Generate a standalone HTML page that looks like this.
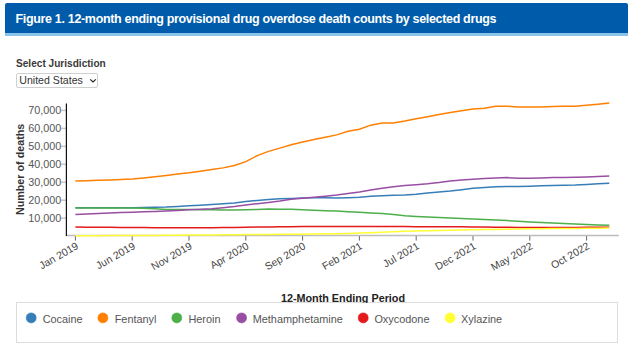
<!DOCTYPE html>
<html><head><meta charset="utf-8"><style>
html,body{margin:0;padding:0;background:#fff;width:635px;height:348px;overflow:hidden;font-family:"Liberation Sans",sans-serif;}
.hdr{position:absolute;left:5px;top:3.2px;width:623.2px;height:29.6px;background:#005caa;border-bottom:3px solid #8ac3ea;border-radius:2px 2px 0 0;box-sizing:content-box;}
.hdr span{position:absolute;left:10.5px;top:7.9px;color:#fff;font-weight:bold;font-size:12.5px;letter-spacing:-0.33px;white-space:nowrap;line-height:16px;}
.sel-lbl{position:absolute;left:16px;top:57.1px;font-weight:bold;font-size:10.1px;color:#3a3a3a;line-height:14px;white-space:nowrap;}
.sel{position:absolute;left:15.7px;top:73.3px;width:80px;height:12.9px;border:1px solid #cfcfcf;border-radius:2px;background:#fff;}
.sel span{position:absolute;left:2.6px;top:0.2px;font-size:10.6px;color:#333;line-height:13px;white-space:nowrap;}
svg{position:absolute;left:0;top:0;}
.legend{position:absolute;left:15.5px;top:302.3px;width:600.5px;height:39.2px;border:1px solid #dcdcdc;background:#fff;}
</style></head><body>
<div class="hdr"><span>Figure 1. 12-month ending provisional drug overdose death counts by selected drugs</span></div>
<div class="sel-lbl">Select Jurisdiction</div>
<div class="sel"><span>United States</span>
<svg width="8" height="6" style="left:71.9px;top:3.6px" viewBox="0 0 8 6"><path d="M1.2,1.3 L4,4 L6.8,1.3" fill="none" stroke="#222" stroke-width="1.15"/></svg></div>
<div class="legend"></div>
<svg width="635" height="303" viewBox="0 0 635 303" style="font-family:'Liberation Sans',sans-serif">
<text transform="translate(23.6,169.4) rotate(-90)" text-anchor="middle" font-size="10.75" font-weight="bold" fill="#333">Number of deaths</text>
<line x1="60.9" x2="66.4" y1="218.15" y2="218.15" stroke="#c8c8c8" stroke-width="1.5"/>
<text x="61.3" y="221.95" text-anchor="end" font-size="10.8" fill="#555">10,000</text>
<line x1="60.9" x2="66.4" y1="200.20" y2="200.20" stroke="#c8c8c8" stroke-width="1.5"/>
<text x="61.3" y="204.00" text-anchor="end" font-size="10.8" fill="#555">20,000</text>
<line x1="60.9" x2="66.4" y1="182.25" y2="182.25" stroke="#c8c8c8" stroke-width="1.5"/>
<text x="61.3" y="186.05" text-anchor="end" font-size="10.8" fill="#555">30,000</text>
<line x1="60.9" x2="66.4" y1="164.30" y2="164.30" stroke="#c8c8c8" stroke-width="1.5"/>
<text x="61.3" y="168.10" text-anchor="end" font-size="10.8" fill="#555">40,000</text>
<line x1="60.9" x2="66.4" y1="146.35" y2="146.35" stroke="#c8c8c8" stroke-width="1.5"/>
<text x="61.3" y="150.15" text-anchor="end" font-size="10.8" fill="#555">50,000</text>
<line x1="60.9" x2="66.4" y1="128.40" y2="128.40" stroke="#c8c8c8" stroke-width="1.5"/>
<text x="61.3" y="132.20" text-anchor="end" font-size="10.8" fill="#555">60,000</text>
<line x1="60.9" x2="66.4" y1="110.45" y2="110.45" stroke="#c8c8c8" stroke-width="1.5"/>
<text x="61.3" y="114.25" text-anchor="end" font-size="10.8" fill="#555">70,000</text>
<line x1="75.40" x2="75.40" y1="235.5" y2="240.6" stroke="#666" stroke-width="1"/>
<text transform="translate(75.40,246.7) rotate(-30)" x="2.6" y="3" text-anchor="end" font-size="10.5" fill="#444">Jan 2019</text>
<line x1="132.20" x2="132.20" y1="235.5" y2="240.6" stroke="#666" stroke-width="1"/>
<text transform="translate(132.20,246.7) rotate(-30)" x="2.6" y="3" text-anchor="end" font-size="10.5" fill="#444">Jun 2019</text>
<line x1="189.00" x2="189.00" y1="235.5" y2="240.6" stroke="#666" stroke-width="1"/>
<text transform="translate(189.00,246.7) rotate(-30)" x="2.6" y="3" text-anchor="end" font-size="10.5" fill="#444">Nov 2019</text>
<line x1="245.80" x2="245.80" y1="235.5" y2="240.6" stroke="#666" stroke-width="1"/>
<text transform="translate(245.80,246.7) rotate(-30)" x="2.6" y="3" text-anchor="end" font-size="10.5" fill="#444">Apr 2020</text>
<line x1="302.60" x2="302.60" y1="235.5" y2="240.6" stroke="#666" stroke-width="1"/>
<text transform="translate(302.60,246.7) rotate(-30)" x="2.6" y="3" text-anchor="end" font-size="10.5" fill="#444">Sep 2020</text>
<line x1="359.40" x2="359.40" y1="235.5" y2="240.6" stroke="#666" stroke-width="1"/>
<text transform="translate(359.40,246.7) rotate(-30)" x="2.6" y="3" text-anchor="end" font-size="10.5" fill="#444">Feb 2021</text>
<line x1="416.20" x2="416.20" y1="235.5" y2="240.6" stroke="#666" stroke-width="1"/>
<text transform="translate(416.20,246.7) rotate(-30)" x="2.6" y="3" text-anchor="end" font-size="10.5" fill="#444">Jul 2021</text>
<line x1="473.00" x2="473.00" y1="235.5" y2="240.6" stroke="#666" stroke-width="1"/>
<text transform="translate(473.00,246.7) rotate(-30)" x="2.6" y="3" text-anchor="end" font-size="10.5" fill="#444">Dec 2021</text>
<line x1="529.80" x2="529.80" y1="235.5" y2="240.6" stroke="#666" stroke-width="1"/>
<text transform="translate(529.80,246.7) rotate(-30)" x="2.6" y="3" text-anchor="end" font-size="10.5" fill="#444">May 2022</text>
<line x1="586.60" x2="586.60" y1="235.5" y2="240.6" stroke="#666" stroke-width="1"/>
<text transform="translate(586.60,246.7) rotate(-30)" x="2.6" y="3" text-anchor="end" font-size="10.5" fill="#444">Oct 2022</text>
<line x1="66.4" x2="618.7" y1="235.6" y2="235.6" stroke="#bdbdbd" stroke-width="1.5"/>
<line x1="66.4" x2="66.4" y1="103.5" y2="236" stroke="#111" stroke-width="1.2"/>
<path d="M75.40,207.80L86.76,207.78L98.12,207.76L109.48,207.75L120.84,207.73L132.20,207.71L143.56,207.60L154.92,207.29L166.28,207.03L177.64,206.43L189.00,205.83L200.36,205.14L211.72,204.44L223.08,203.68L234.44,202.90L245.80,201.47L257.16,200.44L268.52,199.50L279.88,198.76L291.24,198.38L302.60,198.00L313.96,197.78L325.32,197.65L336.68,197.94L348.04,197.66L359.40,197.22L370.76,196.30L382.12,195.73L393.48,195.33L404.84,194.93L416.20,194.14L427.56,193.05L438.92,191.98L450.28,191.00L461.64,189.75L473.00,188.29L484.36,187.48L495.72,186.71L507.08,186.56L518.44,186.51L529.80,186.21L541.16,185.84L552.52,185.48L563.88,185.29L575.24,185.10L586.60,184.48L597.96,183.85L609.32,183.22" fill="none" stroke="#377eb8" stroke-width="1.5"/>
<path d="M75.40,181.09L86.76,180.69L98.12,180.29L109.48,179.90L120.84,179.50L132.20,179.11L143.56,177.89L154.92,176.66L166.28,175.40L177.64,174.12L189.00,172.83L200.36,171.21L211.72,169.58L223.08,167.87L234.44,165.56L245.80,161.67L257.16,155.63L268.52,151.39L279.88,148.13L291.24,144.83L302.60,141.99L313.96,139.53L325.32,137.29L336.68,134.86L348.04,131.27L359.40,129.15L370.76,125.16L382.12,123.00L393.48,123.05L404.84,121.10L416.20,118.86L427.56,116.65L438.92,114.57L450.28,112.49L461.64,110.78L473.00,108.93L484.36,108.17L495.72,106.30L507.08,106.30L518.44,107.06L529.80,107.10L541.16,107.10L552.52,106.57L563.88,106.27L575.24,106.20L586.60,105.34L597.96,104.26L609.32,103.04" fill="none" stroke="#ff7f00" stroke-width="1.5"/>
<path d="M75.40,208.00L86.76,208.00L98.12,208.00L109.48,208.00L120.84,208.00L132.20,208.00L143.56,208.16L154.92,208.87L166.28,209.50L177.64,209.50L189.00,209.50L200.36,209.64L211.72,209.79L223.08,209.90L234.44,210.00L245.80,209.82L257.16,209.41L268.52,209.11L279.88,209.16L291.24,209.20L302.60,209.71L313.96,210.24L325.32,210.68L336.68,211.11L348.04,211.71L359.40,212.32L370.76,212.90L382.12,213.47L393.48,214.53L404.84,215.74L416.20,216.39L427.56,216.97L438.92,217.48L450.28,217.91L461.64,218.42L473.00,218.92L484.36,219.44L495.72,220.01L507.08,220.59L518.44,221.21L529.80,221.89L541.16,222.54L552.52,222.94L563.88,223.46L575.24,223.99L586.60,224.51L597.96,224.90L609.32,225.29" fill="none" stroke="#4daf4a" stroke-width="1.5"/>
<path d="M75.40,214.48L86.76,213.97L98.12,213.46L109.48,212.95L120.84,212.49L132.20,212.13L143.56,211.78L154.92,211.42L166.28,211.03L177.64,210.43L189.00,209.83L200.36,209.28L211.72,208.73L223.08,207.69L234.44,206.61L245.80,204.90L257.16,203.69L268.52,202.43L279.88,200.98L291.24,199.25L302.60,198.31L313.96,197.26L325.32,196.19L336.68,195.03L348.04,193.61L359.40,191.95L370.76,190.01L382.12,188.28L393.48,186.77L404.84,185.51L416.20,184.65L427.56,183.73L438.92,182.55L450.28,181.08L461.64,180.12L473.00,179.16L484.36,178.52L495.72,177.89L507.08,177.59L518.44,178.14L529.80,178.36L541.16,177.96L552.52,177.59L563.88,177.44L575.24,177.30L586.60,177.06L597.96,176.59L609.32,176.12" fill="none" stroke="#984ea3" stroke-width="1.5"/>
<path d="M75.40,227.10L86.76,227.19L98.12,227.27L109.48,227.35L120.84,227.44L132.20,227.52L143.56,227.61L154.92,227.69L166.28,227.77L177.64,227.78L189.00,227.75L200.36,227.73L211.72,227.70L223.08,227.55L234.44,227.40L245.80,227.25L257.16,227.10L268.52,226.96L279.88,226.83L291.24,226.70L302.60,226.60L313.96,226.58L325.32,226.56L336.68,226.54L348.04,226.52L359.40,226.50L370.76,226.53L382.12,226.56L393.48,226.58L404.84,226.61L416.20,226.64L427.56,226.67L438.92,226.70L450.28,226.77L461.64,226.84L473.00,226.91L484.36,226.98L495.72,227.13L507.08,227.30L518.44,227.48L529.80,227.55L541.16,227.59L552.52,227.53L563.88,227.46L575.24,227.40L586.60,227.33L597.96,227.27L609.32,227.20" fill="none" stroke="#e41a1c" stroke-width="1.5"/>
<path d="M75.40,235.80L86.76,235.74L98.12,235.68L109.48,235.62L120.84,235.56L132.20,235.50L143.56,235.44L154.92,235.38L166.28,235.32L177.64,235.23L189.00,235.12L200.36,235.01L211.72,234.90L223.08,234.80L234.44,234.69L245.80,234.58L257.16,234.47L268.52,234.38L279.88,234.31L291.24,234.25L302.60,234.16L313.96,233.99L325.32,233.82L336.68,233.66L348.04,233.47L359.40,233.07L370.76,232.68L382.12,232.22L393.48,231.64L404.84,231.21L416.20,231.01L427.56,230.76L438.92,230.52L450.28,230.25L461.64,229.98L473.00,229.71L484.36,229.58L495.72,229.45L507.08,229.26L518.44,229.03L529.80,228.85L541.16,228.69L552.52,228.61L563.88,228.52L575.24,228.44L586.60,228.33L597.96,228.22L609.32,228.10" fill="none" stroke="#ffff33" stroke-width="1.5"/>
<text x="280.9" y="302" font-size="10.8" font-weight="bold" fill="#222">12-Month Ending Period</text>
</svg>
<svg width="635" height="348" viewBox="0 0 635 348" style="font-family:'Liberation Sans',sans-serif">
<circle cx="31.2" cy="317.9" r="5" fill="#377eb8" stroke="#377eb8" stroke-width="0.6"/><text x="42.7" y="323.3" font-size="10.9" fill="#555">Cocaine</text>
<circle cx="102.9" cy="317.9" r="5" fill="#ff7f00" stroke="#ff7f00" stroke-width="0.6"/><text x="114.7" y="323.3" font-size="10.9" fill="#555">Fentanyl</text>
<circle cx="176.8" cy="317.9" r="5" fill="#4daf4a" stroke="#4daf4a" stroke-width="0.6"/><text x="188.4" y="323.3" font-size="10.9" fill="#555">Heroin</text>
<circle cx="241.6" cy="317.9" r="5" fill="#984ea3" stroke="#984ea3" stroke-width="0.6"/><text x="252.7" y="323.3" font-size="10.9" fill="#555">Methamphetamine</text>
<circle cx="363.2" cy="317.9" r="5" fill="#e41a1c" stroke="#e41a1c" stroke-width="0.6"/><text x="374.4" y="323.3" font-size="10.9" fill="#555">Oxycodone</text>
<circle cx="450.1" cy="317.9" r="5" fill="#ffff33" stroke="#ffff33" stroke-width="0.6"/><text x="461" y="323.3" font-size="10.9" fill="#555">Xylazine</text>
</svg>
</body></html>
